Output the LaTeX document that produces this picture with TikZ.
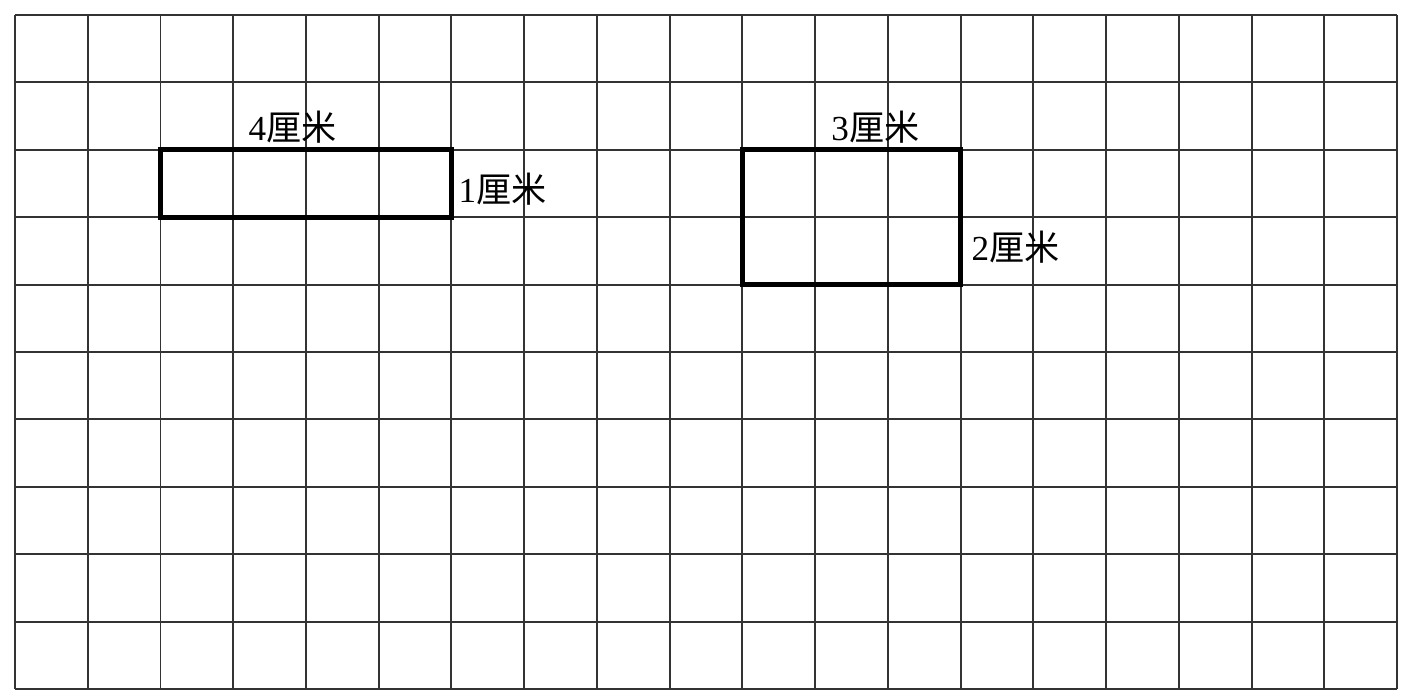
\documentclass[tikz,border=0pt]{standalone}
\usepackage{fontspec}
\setmainfont{Liberation Serif}
\newfontfamily\cjk{Noto Sans CJK SC}
\usetikzlibrary{calc}
\tikzset{gridline/.style={draw=black!80, line width=1.1pt}}
\tikzset{shapeline/.style={draw=black, line width=2.8pt}}
\tikzset{lenlabel/.style={font=\fontsize{20}{20}\selectfont, inner sep=0pt}}
\newcommand{\cw}{72.74}
\newcommand{\rh}{67.4}

\begin{document}
\begin{tikzpicture}[x=0.02cm,y=-0.02cm]
\useasboundingbox (0,0) rectangle (1404,700);
\coordinate (origin) at (15,15);
\foreach \c in {0,...,19}
  \draw[gridline] ($(origin)+(\c*\cw,0)$) -- ($(origin)+(\c*\cw,10*\rh)$);
\foreach \r in {0,...,10}
  \draw[gridline] ($(origin)+(0,\r*\rh)$) -- ($(origin)+(19*\cw,\r*\rh)$);

% first rectangle
\coordinate (long_nw) at ($(origin)+(2*\cw,2*\rh)$);
\coordinate (long_se) at ($(origin)+(6*\cw,3*\rh)$);
\draw[shapeline] (long_nw) rectangle (long_se);
\node[lenlabel] (long_len) at ($(long_nw)+(132,-23)$) {4{\cjk 厘米}};
\node[lenlabel] (long_wid) at ($(long_se)+(51,-28)$) {1{\cjk 厘米}};

% second rectangle
\coordinate (wide_nw) at ($(origin)+(10*\cw,2*\rh)$);
\coordinate (wide_se) at ($(origin)+(13*\cw,4*\rh)$);
\draw[shapeline] (wide_nw) rectangle (wide_se);
\node[lenlabel] (wide_len) at ($(wide_nw)+(133,-23)$) {3{\cjk 厘米}};
\node[lenlabel] (wide_wid) at ($(wide_se)+(55,-37)$) {2{\cjk 厘米}};
\end{tikzpicture}
\end{document}
